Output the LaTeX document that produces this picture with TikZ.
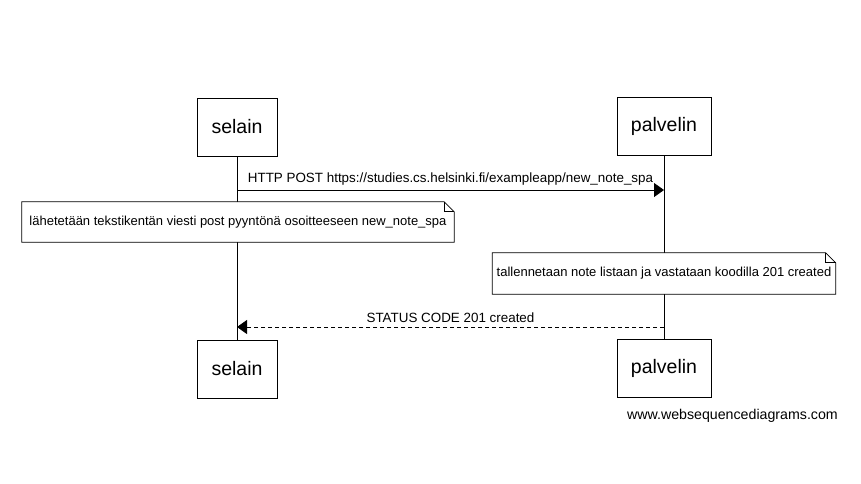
\documentclass[tikz,border=0pt]{standalone}
\usepackage{fontspec}
\setmainfont{Liberation Sans}
\usetikzlibrary{arrows.meta,calc}
\begin{document}
\begin{tikzpicture}[x=1pt,y=-1pt,
  actor/.style={draw,line width=0.8pt,minimum height=58pt,inner sep=0pt,
    font=\fontsize{19.5}{23}\selectfont},
  msg/.style={line width=0.8pt,-{Triangle[length=10pt,width=14pt]}},
  lbl/.style={inner sep=0pt,font=\fontsize{13.4}{15}\selectfont},
  notebox/.style={inner sep=0pt,font=\fontsize{13}{15}\selectfont},
  noteline/.style={line width=0.8pt,fill=white},
]
\useasboundingbox (0,0) rectangle (861,483);

% participants, top and bottom
\node[actor,minimum width=80pt] (st) at (237,127) {selain};
\node[actor,minimum width=94pt] (pt) at (664,126) {palvelin};
\node[actor,minimum width=80pt] (sb) at (237,369) {selain};
\node[actor,minimum width=94pt] (pb) at (664,368) {palvelin};

% lifelines
\draw[line width=0.8pt] (st.south) -- (sb.north);
\draw[line width=0.8pt] (pt.south) -- (pb.north);

% request
\coordinate (s1) at (237,190);
\coordinate (p1) at (664,190);
\draw[msg] (s1) -- (p1) node[lbl,midway,above=4pt] {HTTP POST https://studies.cs.helsinki.fi/exampleapp/new\_note\_spa};

% note on the browser
\node[notebox,minimum width=432pt,minimum height=40pt] (n1) at (238,222) {};
\draw[noteline] (n1.north west) -- ($(n1.north east)+(-10,0)$) -- ($(n1.north east)+(0,10)$)
  -- (n1.south east) -- (n1.south west) -- cycle;
\draw[line width=0.8pt] ($(n1.north east)+(-10,0)$) |- ($(n1.north east)+(0,10)$);
\node[notebox] at (n1.center) {lähetetään tekstikentän viesti post pyyntönä osoitteeseen new\_note\_spa};

% note on the server
\node[notebox,minimum width=343pt,minimum height=41pt] (n2) at (664,273.5) {};
\draw[noteline] (n2.north west) -- ($(n2.north east)+(-10,0)$) -- ($(n2.north east)+(0,10)$)
  -- (n2.south east) -- (n2.south west) -- cycle;
\draw[line width=0.8pt] ($(n2.north east)+(-10,0)$) |- ($(n2.north east)+(0,10)$);
\node[notebox] at (n2.center) {tallennetaan note listaan ja vastataan koodilla 201 created};

% response
\coordinate (p2) at (664,327);
\coordinate (s2) at (237,327);
\draw[msg,dashed,dash pattern=on 4pt off 3pt] (p2) -- (s2) node[lbl,midway,above=4pt] {STATUS CODE 201 created};

% footer
\node[inner sep=0pt,font=\fontsize{14.2}{16}\selectfont,anchor=east] (wm) at (838,416) {www.websequencediagrams.com};
\end{tikzpicture}
\end{document}
